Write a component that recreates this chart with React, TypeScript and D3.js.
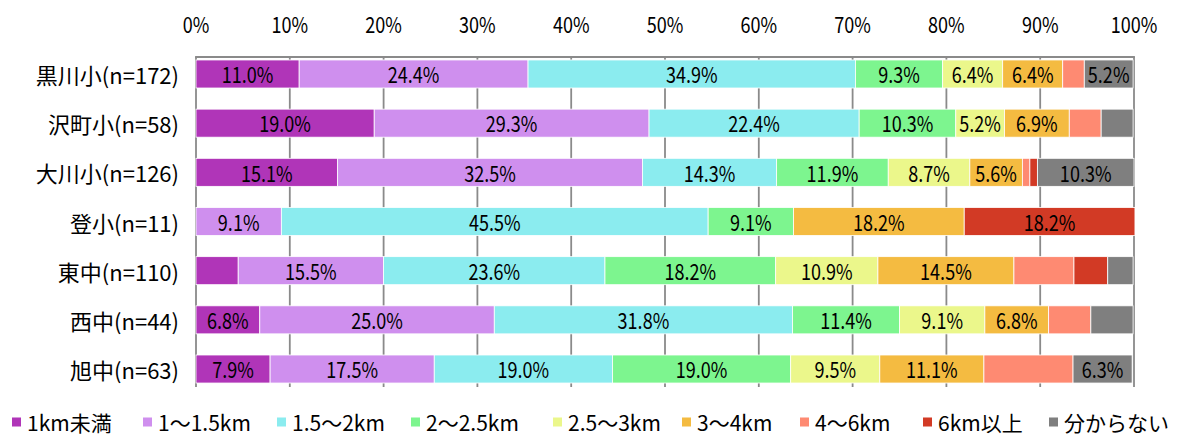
import React from "react";
import * as d3 from "d3";

const categories = ["黒川小(n=172)", "沢町小(n=58)", "大川小(n=126)", "登小(n=11)", "東中(n=110)", "西中(n=44)", "旭中(n=63)"];
const seriesNames = ["1km未満", "1〜1.5km", "1.5〜2km", "2〜2.5km", "2.5〜3km", "3〜4km", "4〜6km", "6km以上", "分からない"];
const seriesColors = ["#b035b8", "#cf8fee", "#8becef", "#7df58f", "#ebf78b", "#f4bb41", "#fe8a72", "#d23a25", "#7f7f7f"];
const seriesShowLabels = [true, true, true, true, true, true, false, true, true];
// values[categoryIndex][seriesIndex]
const kurokawa = [11.0, 24.4, 34.9, 9.3, 6.4, 6.4, 2.3, 0, 5.2];
const sawamachi = [19.0, 29.3, 22.4, 10.3, 5.2, 6.9, 3.4, 0, 3.4];
const okawa = [15.1, 32.5, 14.3, 11.9, 8.7, 5.6, 0.8, 0.8, 10.3];
const nobori = [0, 9.1, 45.5, 9.1, 0, 18.2, 0, 18.2, 0];
const higashi = [4.5, 15.5, 23.6, 18.2, 10.9, 14.5, 6.4, 3.6, 2.7];
const nishi = [6.8, 25.0, 31.8, 11.4, 9.1, 6.8, 4.5, 0, 4.5];
const asahi = [7.9, 17.5, 19.0, 19.0, 9.5, 11.1, 9.5, 0, 6.3];
const values = [kurokawa, sawamachi, okawa, nobori, higashi, nishi, asahi];
const tickValues = [0, 10, 20, 30, 40, 50, 60, 70, 80, 90, 100];

const FONT = "'Noto Sans CJK JP', 'Noto Sans', sans-serif";
const NARROW = 0.82;

function NarrowText({ x, y, children, size = 22, anchor = "middle" }: { x: number; y: number; children: React.ReactNode; size?: number; anchor?: string }) {
  return (
    <text transform={`translate(${x},${y}) scale(${NARROW},1)`} textAnchor={anchor as any}
      dominantBaseline="central" fontSize={size} fill="#000">
      {children}
    </text>
  );
}

export default function App() {
  const W = 1185, H = 437;
  const x = d3.scaleLinear().domain([0, 100]).range([196, 1134]);
  const y = d3.scaleBand<string>().domain(categories).range([49.4, 393.6]).paddingInner(0.43).paddingOuter(0.215);
  const gridTop = 57, gridBottom = 387;

  const legendX = [12, 143, 277, 411, 553, 682, 800, 923, 1049];

  return (
    <svg width={W} height={H} style={{ position: "absolute", left: 0, top: 0, background: "#fff" }} fontFamily={FONT}>
      <rect x={0} y={0} width={W} height={H} fill="#fff" />
      {/* grid lines */}
      {tickValues.map((t) => (
        <line key={t} x1={x(t)} x2={x(t)} y1={gridTop} y2={gridBottom} stroke="#8a8a8a" strokeWidth={1.8} />
      ))}
      <line x1={x(0) - 0.9} x2={x(100) + 0.9} y1={gridTop} y2={gridTop} stroke="#8a8a8a" strokeWidth={1.8} />
      {/* bars */}
      {categories.map((c, ci) => {
        const stacked = d3.cumsum(values[ci]);
        const yc = (y(c) as number) + y.bandwidth() / 2;
        return (
          <g key={c}>
            {values[ci].map((v, si) => {
              if (v <= 0) return null;
              const x0 = x(stacked[si] - v);
              const x1 = x(stacked[si]);
              return (
                <rect key={si} x={x0} y={y(c)} width={Math.max(0, x1 - x0)} height={y.bandwidth()}
                  fill={seriesColors[si]} stroke="#fff" strokeWidth={0.8} />
              );
            })}
            {values[ci].map((v, si) => {
              if (v < 5 || !seriesShowLabels[si]) return null;
              const xm = x(stacked[si] - v / 2);
              return (
                <NarrowText key={"t" + si} x={xm} y={yc}>{v.toFixed(1)}%</NarrowText>
              );
            })}
          </g>
        );
      })}
      {/* tick labels */}
      {tickValues.map((t) => (
        <NarrowText key={"l" + t} x={x(t)} y={24}>{t}%</NarrowText>
      ))}
      {/* category labels */}
      {categories.map((c) => (
        <text key={"c" + c} x={179} y={(y(c) as number) + y.bandwidth() / 2} textAnchor="end"
          dominantBaseline="central" fontSize={22} fill="#000">
          {c}
        </text>
      ))}
      {/* legend */}
      {seriesNames.map((s, i) => (
        <g key={"lg" + s} transform={`translate(${legendX[i]},422)`}>
          <rect x={0} y={-4.5} width={9} height={9} fill={seriesColors[i]} />
          <text x={15} y={0} dominantBaseline="central" fontSize={21} fill="#000">{s}</text>
        </g>
      ))}
    </svg>
  );
}
